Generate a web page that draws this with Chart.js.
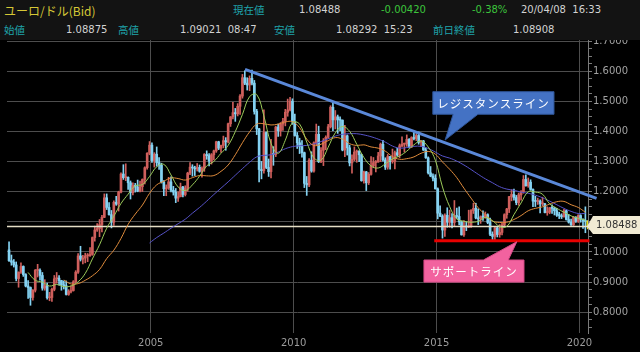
<!DOCTYPE html>
<html><head><meta charset="utf-8">
<script src="https://cdn.jsdelivr.net/npm/chart.js@4.4.1/dist/chart.umd.min.js"></script>
<style>
html,body{margin:0;padding:0;background:#000;}
#wrap{position:relative;width:640px;height:352px;overflow:hidden;background:#000;}
#c{position:absolute;left:0;top:0;}
#hdr{position:absolute;left:0;top:0;width:640px;height:40px;background:#131313;font-family:'DejaVu Sans','Noto Sans CJK JP',sans-serif;font-size:10px;color:#d2d2d2;}
#hdr span{position:absolute;white-space:nowrap;line-height:1;transform:translateY(-50%);}
#hdr .jp{color:#1fa4ab;font-family:'Noto Sans CJK JP',sans-serif;font-size:10.5px;}
#hdr .ttl{color:#d6c836;font-family:'Noto Sans CJK JP',sans-serif;font-size:12px;}
#hdr .g{color:#3cc43c;}
</style></head><body>
<div id="wrap">
<canvas id="c" width="640" height="352"></canvas>
<div id="hdr">
<span class="ttl" style="left:4px;top:11px">ユーロ/ドル(Bid)</span>
<span class="jp" style="left:233px;top:10px">現在値</span>
<span style="left:299px;top:10px">1.08488</span>
<span class="g" style="left:381px;top:10px">-0.00420</span>
<span class="g" style="left:472px;top:10px">-0.38%</span>
<span style="left:521px;top:10px">20/04/08&nbsp;&nbsp;16:33</span>
<span class="jp" style="left:4px;top:30px">始値</span>
<span style="left:66px;top:30px">1.08875</span>
<span class="jp" style="left:118px;top:30px">高値</span>
<span style="left:180px;top:30px">1.09021&nbsp;&nbsp;08:47</span>
<span class="jp" style="left:274px;top:30px">安値</span>
<span style="left:336px;top:30px">1.08292&nbsp;&nbsp;15:23</span>
<span class="jp" style="left:433px;top:30px">前日終値</span>
<span style="left:513px;top:30px">1.08908</span>
</div>
</div>
<script>
// ---- data (monthly candles, Jan 2000 - Apr 2020) ----
const startYear = 2000;
const opens = [
1.007,0.971,0.966,0.957,0.912,0.933,0.952,0.925,0.887,0.882,0.849,0.873,
0.939,0.939,0.922,0.880,0.888,0.848,0.849,0.876,0.911,0.913,0.905,0.891,
0.888,0.859,0.869,0.872,0.901,0.933,0.987,0.976,0.980,0.987,0.988,0.992,
1.048,1.073,1.078,1.091,1.115,1.180,1.148,1.124,1.099,1.165,1.159,1.199,
1.259,1.247,1.248,1.230,1.197,1.221,1.216,1.202,1.217,1.241,1.280,1.328,
1.355,1.304,1.325,1.297,1.288,1.233,1.210,1.213,1.233,1.205,1.199,1.179,
1.184,1.216,1.191,1.212,1.262,1.282,1.279,1.276,1.281,1.268,1.278,1.324,
1.320,1.302,1.323,1.336,1.366,1.345,1.354,1.370,1.366,1.426,1.449,1.463,
1.459,1.484,1.518,1.579,1.561,1.555,1.577,1.561,1.467,1.409,1.274,1.270,
1.397,1.281,1.267,1.325,1.324,1.415,1.403,1.425,1.434,1.464,1.472,1.501,
1.432,1.387,1.363,1.351,1.330,1.228,1.223,1.305,1.269,1.363,1.391,1.300,
1.338,1.369,1.381,1.416,1.481,1.439,1.449,1.439,1.438,1.339,1.386,1.346,
1.296,1.308,1.332,1.334,1.323,1.237,1.266,1.230,1.258,1.286,1.297,1.299,
1.319,1.358,1.306,1.282,1.317,1.300,1.301,1.330,1.322,1.353,1.358,1.359,
1.374,1.349,1.380,1.377,1.387,1.364,1.369,1.339,1.313,1.263,1.252,1.245,
1.210,1.129,1.119,1.073,1.122,1.099,1.114,1.098,1.121,1.118,1.100,1.057,
1.086,1.083,1.087,1.138,1.145,1.113,1.110,1.117,1.116,1.124,1.098,1.059,
1.052,1.080,1.058,1.065,1.090,1.124,1.143,1.184,1.191,1.181,1.164,1.190,
1.200,1.241,1.220,1.232,1.208,1.169,1.168,1.169,1.160,1.160,1.131,1.132,
1.147,1.145,1.137,1.122,1.121,1.117,1.137,1.108,1.099,1.090,1.115,1.102,
1.121,1.109,1.103,1.102];
const highs = [
1.034,0.990,0.975,0.967,0.934,0.964,0.954,0.928,0.905,0.884,0.875,0.942,
0.959,0.944,0.932,0.908,0.897,0.866,0.880,0.922,0.932,0.922,0.906,0.904,
0.904,0.875,0.888,0.905,0.938,0.995,1.019,0.989,0.996,0.995,1.015,1.050,
1.086,1.094,1.108,1.122,1.193,1.193,1.164,1.138,1.170,1.185,1.202,1.263,
1.290,1.293,1.250,1.236,1.230,1.228,1.239,1.236,1.243,1.283,1.330,1.367,
1.363,1.330,1.349,1.314,1.295,1.237,1.223,1.248,1.250,1.218,1.211,1.200,
1.229,1.218,1.220,1.265,1.297,1.290,1.285,1.294,1.289,1.283,1.327,1.336,
1.327,1.327,1.339,1.368,1.368,1.355,1.385,1.380,1.428,1.450,1.497,1.477,
1.493,1.523,1.590,1.602,1.579,1.585,1.604,1.570,1.474,1.411,1.301,1.472,
1.399,1.309,1.374,1.350,1.418,1.425,1.430,1.444,1.474,1.508,1.514,1.509,
1.458,1.397,1.378,1.370,1.332,1.251,1.310,1.333,1.366,1.425,1.418,1.347,
1.377,1.386,1.424,1.486,1.494,1.470,1.455,1.449,1.439,1.421,1.389,1.355,
1.323,1.349,1.339,1.337,1.325,1.269,1.268,1.264,1.317,1.314,1.304,1.331,
1.362,1.371,1.313,1.324,1.318,1.342,1.335,1.345,1.359,1.383,1.362,1.389,
1.377,1.383,1.397,1.393,1.399,1.371,1.371,1.346,1.316,1.284,1.260,1.257,
1.213,1.153,1.124,1.127,1.147,1.139,1.128,1.171,1.146,1.150,1.103,1.104,
1.100,1.139,1.141,1.162,1.162,1.143,1.120,1.137,1.133,1.127,1.113,1.067,
1.082,1.083,1.091,1.095,1.127,1.145,1.185,1.207,1.209,1.188,1.196,1.204,
1.254,1.256,1.246,1.240,1.210,1.185,1.179,1.173,1.182,1.162,1.150,1.148,
1.157,1.149,1.145,1.132,1.127,1.142,1.140,1.125,1.109,1.118,1.118,1.124,
1.124,1.110,1.150,1.104];
const lows = [
0.969,0.956,0.950,0.904,0.883,0.929,0.919,0.884,0.846,0.823,0.840,0.867,
0.917,0.906,0.873,0.873,0.843,0.838,0.836,0.871,0.896,0.890,0.873,0.877,
0.857,0.856,0.864,0.870,0.896,0.929,0.970,0.960,0.964,0.968,0.985,0.989,
1.036,1.068,1.051,1.067,1.114,1.141,1.122,1.080,1.088,1.155,1.136,1.196,
1.241,1.237,1.208,1.176,1.190,1.199,1.200,1.200,1.201,1.226,1.275,1.323,
1.298,1.282,1.285,1.274,1.229,1.187,1.187,1.208,1.200,1.189,1.164,1.168,
1.183,1.183,1.186,1.202,1.257,1.252,1.254,1.269,1.265,1.249,1.268,1.308,
1.286,1.292,1.306,1.331,1.340,1.331,1.346,1.338,1.362,1.417,1.442,1.434,
1.452,1.457,1.511,1.556,1.538,1.536,1.555,1.458,1.390,1.233,1.243,1.262,
1.277,1.251,1.246,1.288,1.317,1.384,1.385,1.404,1.419,1.451,1.469,1.424,
1.385,1.344,1.327,1.315,1.214,1.188,1.217,1.265,1.265,1.355,1.297,1.297,
1.287,1.340,1.377,1.412,1.403,1.409,1.394,1.403,1.336,1.317,1.322,1.286,
1.262,1.303,1.298,1.300,1.235,1.229,1.204,1.224,1.255,1.280,1.266,1.298,
1.300,1.302,1.274,1.275,1.275,1.295,1.276,1.318,1.313,1.349,1.332,1.351,
1.346,1.347,1.372,1.370,1.358,1.350,1.337,1.311,1.259,1.250,1.236,1.209,
1.110,1.117,1.046,1.052,1.082,1.082,1.080,1.086,1.110,1.090,1.056,1.052,
1.071,1.081,1.082,1.128,1.110,1.091,1.095,1.105,1.112,1.094,1.054,1.035,
1.034,1.050,1.049,1.057,1.084,1.112,1.131,1.170,1.172,1.157,1.155,1.172,
1.195,1.219,1.215,1.205,1.151,1.151,1.158,1.130,1.154,1.130,1.122,1.127,
1.128,1.123,1.118,1.111,1.111,1.116,1.106,1.096,1.088,1.088,1.098,1.098,
1.099,1.078,1.064,1.077];
const closes = [
0.971,0.966,0.957,0.912,0.933,0.952,0.925,0.887,0.882,0.849,0.873,0.939,
0.939,0.922,0.880,0.888,0.848,0.849,0.876,0.911,0.913,0.905,0.891,0.888,
0.859,0.869,0.872,0.901,0.933,0.987,0.976,0.980,0.987,0.988,0.992,1.048,
1.073,1.078,1.091,1.115,1.180,1.148,1.124,1.099,1.165,1.159,1.199,1.259,
1.247,1.248,1.230,1.197,1.221,1.216,1.202,1.217,1.241,1.280,1.328,1.355,
1.304,1.325,1.297,1.288,1.233,1.210,1.213,1.233,1.205,1.199,1.179,1.184,
1.216,1.191,1.212,1.262,1.282,1.279,1.276,1.281,1.268,1.278,1.324,1.320,
1.302,1.323,1.336,1.366,1.345,1.354,1.370,1.366,1.426,1.449,1.463,1.459,
1.484,1.518,1.579,1.561,1.555,1.577,1.561,1.467,1.409,1.274,1.270,1.397,
1.281,1.267,1.325,1.324,1.415,1.403,1.425,1.434,1.464,1.472,1.501,1.432,
1.387,1.363,1.351,1.330,1.228,1.223,1.305,1.269,1.363,1.391,1.300,1.338,
1.369,1.381,1.416,1.481,1.439,1.449,1.439,1.438,1.339,1.386,1.346,1.296,
1.308,1.332,1.334,1.323,1.237,1.266,1.230,1.258,1.286,1.297,1.299,1.319,
1.358,1.306,1.282,1.317,1.300,1.301,1.330,1.322,1.353,1.358,1.359,1.374,
1.349,1.380,1.377,1.387,1.364,1.369,1.339,1.313,1.263,1.252,1.245,1.210,
1.129,1.119,1.073,1.122,1.099,1.114,1.098,1.121,1.118,1.100,1.057,1.086,
1.083,1.087,1.138,1.145,1.113,1.110,1.117,1.116,1.124,1.098,1.059,1.052,
1.080,1.058,1.065,1.090,1.124,1.143,1.184,1.191,1.181,1.164,1.190,1.200,
1.241,1.220,1.232,1.208,1.169,1.168,1.169,1.160,1.160,1.131,1.132,1.147,
1.145,1.137,1.122,1.121,1.117,1.137,1.108,1.099,1.090,1.115,1.102,1.121,
1.109,1.103,1.102,1.08488];

// moving averages read at quarter ends (9, 24 and 60 month)
const ma9FirstQuarter = 2;
const ma9 = [0.932,0.906,0.900,0.887,0.892,0.885,0.887,0.901,0.929,0.977,
1.024,1.079,1.119,1.161,1.192,1.220,1.224,1.251,1.283,1.291,
1.256,1.216,1.204,1.223,1.252,1.286,1.301,1.328,1.354,1.400,
1.457,1.516,1.523,1.452,1.361,1.328,1.371,1.430,1.425,1.365,
1.313,1.305,1.348,1.396,1.417,1.401,1.358,1.314,1.286,1.279,
1.293,1.309,1.319,1.335,1.356,1.369,1.349,1.305,1.216,1.151,
1.110,1.102,1.099,1.102,1.115,1.104,1.085,1.085,1.124,1.163,
1.200,1.199,1.192,1.160,1.145,1.132,1.120,1.112,1.106];
const ma24FirstQuarter = 7;
const ma24 = [0.907,0.894,0.895,0.906,0.921,0.942,0.978,1.006,1.045,1.092,
1.126,1.156,1.195,1.223,1.235,1.246,1.244,1.239,1.247,1.254,
1.253,1.254,1.268,1.289,1.323,1.363,1.399,1.425,1.426,1.422,
1.425,1.432,1.433,1.413,1.375,1.354,1.358,1.370,1.380,1.375,
1.360,1.354,1.356,1.349,1.345,1.335,1.317,1.308,1.310,1.316,
1.328,1.334,1.325,1.299,1.275,1.247,1.212,1.179,1.147,1.124,
1.103,1.098,1.099,1.108,1.121,1.137,1.145,1.150,1.159,1.167,
1.168,1.157,1.148,1.132];
const ma60FirstQuarter = 19;
const ma60 = [1.030,1.048,1.063,1.079,1.094,1.109,1.129,1.148,1.169,1.191,
1.212,1.233,1.255,1.277,1.298,1.316,1.321,1.323,1.332,1.343,
1.350,1.353,1.354,1.359,1.367,1.376,1.385,1.391,1.393,1.393,
1.389,1.383,1.375,1.365,1.352,1.345,1.347,1.351,1.351,1.344,
1.332,1.319,1.312,1.302,1.289,1.274,1.258,1.243,1.230,1.217,
1.209,1.205,1.199,1.195,1.189,1.180,1.169,1.157,1.145,1.135,
1.128,1.128];

const xTicks = [2005, 2010, 2015, 2020];
const yTicks = [0.8, 0.9, 1.0, 1.1, 1.2, 1.3, 1.4, 1.5, 1.6, 1.7];
const currentPrice = 1.08488;
const resistanceLine = [{x: 2008.30, y: 1.607}, {x: 2020.60, y: 1.178}];
const supportLine = [{x: 2014.92, y: 1.0375}, {x: 2020.35, y: 1.0375}];

// ---- chart ----
const X_MIN = 1999.97, X_MAX = 2020.30, Y_MIN = 0.7309, Y_MAX = 1.7043;
const monthX = i => startYear + (i + 0.5) / 12;
const quarterX = q => startYear + (3 * q + 2.5) / 12;
const UP = '#cf5f5c', DOWN = '#84d2f2', LAST = '#e8e22a';
const lastIdx = closes.length - 1;
const candleColor = i => i === lastIdx ? LAST : (closes[i] >= opens[i] ? UP : DOWN);

const callouts = [
  {text: 'レジスタンスライン', fill: '#4472c4', stroke: '#2f5597', box: [2014.87, 2019.11, 1.5326, 1.4575],
   side: 'bottom', base: [2015.58, 2016.45], tip: [2015.30, 1.372]},
  {text: 'サポートライン', fill: '#f2629f', stroke: '#d84a88', box: [2014.56, 2018.06, 0.9734, 0.9000],
   side: 'top', base: [2016.64, 2017.51], tip: [2017.81, 1.0342]}
];

const overlay = {
  id: 'overlay',
  afterDraw(chart) {
    const {ctx, scales: {x, y}, chartArea} = chart;
    const X = v => x.getPixelForValue(v), Y = v => y.getPixelForValue(v);
    callouts.forEach(c => {
      const l = X(c.box[0]), r = X(c.box[1]), t = Y(c.box[2]), b = Y(c.box[3]);
      const p1 = X(c.base[0]), p2 = X(c.base[1]), tx = X(c.tip[0]), ty = Y(c.tip[1]);
      ctx.save();
      ctx.beginPath();
      if (c.side === 'bottom') {
        ctx.moveTo(l, t); ctx.lineTo(r, t); ctx.lineTo(r, b); ctx.lineTo(p2, b);
        ctx.lineTo(tx, ty); ctx.lineTo(p1, b); ctx.lineTo(l, b);
      } else {
        ctx.moveTo(l, t); ctx.lineTo(p1, t); ctx.lineTo(tx, ty); ctx.lineTo(p2, t);
        ctx.lineTo(r, t); ctx.lineTo(r, b); ctx.lineTo(l, b);
      }
      ctx.closePath();
      ctx.fillStyle = c.fill; ctx.fill();
      ctx.lineWidth = 1; ctx.strokeStyle = c.stroke; ctx.stroke();
      ctx.fillStyle = '#ffffff';
      ctx.font = '11.5px "Noto Sans CJK JP"';
      ctx.textAlign = 'center'; ctx.textBaseline = 'middle';
      if (ctx.letterSpacing !== undefined) ctx.letterSpacing = '1px';
      ctx.fillText(c.text, (l + r) / 2, (t + b) / 2 + 0.5);
      ctx.restore();
    });
    // price tag
    const yp = Y(currentPrice), ax = chartArea.right;
    ctx.save();
    ctx.beginPath();
    ctx.moveTo(ax - 1, yp); ctx.lineTo(ax + 5, yp - 10.5); ctx.lineTo(640, yp - 10.5);
    ctx.lineTo(640, yp + 7.5); ctx.lineTo(ax + 5, yp + 7.5); ctx.closePath();
    ctx.fillStyle = '#f1ead3'; ctx.fill();
    ctx.fillStyle = '#333'; ctx.font = '10px "DejaVu Sans"';
    ctx.textAlign = 'left'; ctx.textBaseline = 'middle';
    ctx.fillText(currentPrice.toFixed(5), ax + 8, yp - 1);
    ctx.restore();
  }
};

const isMajor = v => yTicks.some(t => Math.abs(t - v) < 1e-6);
const minorStep = 0.025;

new Chart(document.getElementById('c'), {
  type: 'bar',
  data: {
    datasets: [
      {type: 'line', data: resistanceLine, borderColor: '#5a88d8', borderWidth: 3, pointRadius: 0, clip: false, order: 0},
      {type: 'line', data: supportLine, borderColor: '#e80000', borderWidth: 3, pointRadius: 0, clip: false, order: 0},
      {type: 'line', data: ma9.map((v, k) => ({x: quarterX(k + ma9FirstQuarter), y: v})), borderColor: '#9ccb5a', borderWidth: 1, pointRadius: 0, tension: 0.4, order: 1},
      {type: 'line', data: ma24.map((v, k) => ({x: quarterX(k + ma24FirstQuarter), y: v})), borderColor: '#e08c3c', borderWidth: 1, pointRadius: 0, tension: 0.4, order: 1},
      {type: 'line', data: ma60.map((v, k) => ({x: quarterX(k + ma60FirstQuarter), y: v})), borderColor: '#5652c8', borderWidth: 1, pointRadius: 0, tension: 0.4, order: 1},
      {type: 'line', data: [{x: X_MIN, y: currentPrice}, {x: X_MAX, y: currentPrice}], borderColor: '#e6dfc6', borderWidth: 1.5, pointRadius: 0, order: 2},
      {type: 'bar', data: closes.map((c, i) => ({x: monthX(i), y: [opens[i], c]})),
        backgroundColor: closes.map((c, i) => candleColor(i)), barThickness: 2, minBarLength: 1, grouped: false, order: 3},
      {type: 'bar', data: closes.map((c, i) => ({x: monthX(i), y: [lows[i], highs[i]]})),
        backgroundColor: closes.map((c, i) => candleColor(i)), barThickness: 1, grouped: false, order: 4}
    ]
  },
  options: {
    responsive: false,
    animation: false,
    events: [],
    layout: {padding: {left: 7, top: 40, right: 0, bottom: 0}},
    plugins: {legend: {display: false}, tooltip: {enabled: false}},
    scales: {
      x: {
        type: 'linear', min: X_MIN, max: X_MAX, offset: false,
        afterBuildTicks: s => { s.ticks = xTicks.map(v => ({value: v})); },
        afterFit: s => { s.height = 19; },
        ticks: {color: '#9c9c9c', font: {family: 'DejaVu Sans', size: 10}, padding: 4, maxRotation: 0, autoSkip: false,
          callback: v => String(v)},
        grid: {color: '#4d4d4d', drawTicks: false, lineWidth: 1, offset: false},
        border: {display: false}
      },
      y: {
        type: 'linear', position: 'right', min: Y_MIN, max: Y_MAX,
        afterBuildTicks: s => {
          const t = [];
          for (let v = yTicks[0] - 2 * minorStep; v <= yTicks[yTicks.length - 1] + 1e-9; v += minorStep) t.push({value: +v.toFixed(4)});
          s.ticks = t;
        },
        afterFit: s => { s.width = 52; },
        ticks: {color: '#a2a2a2', font: {family: 'DejaVu Sans', size: 10}, padding: 1, autoSkip: false,
          callback: v => isMajor(v) ? v.toFixed(4) : ''},
        grid: {color: c => isMajor(c.tick.value) ? '#4d4d4d' : 'rgba(0,0,0,0)',
          tickColor: '#7a7a7a', tickLength: 4, drawTicks: true},
        border: {display: true, color: '#7a7a7a'}
      }
    }
  },
  plugins: [overlay]
});
</script>
</body></html>
